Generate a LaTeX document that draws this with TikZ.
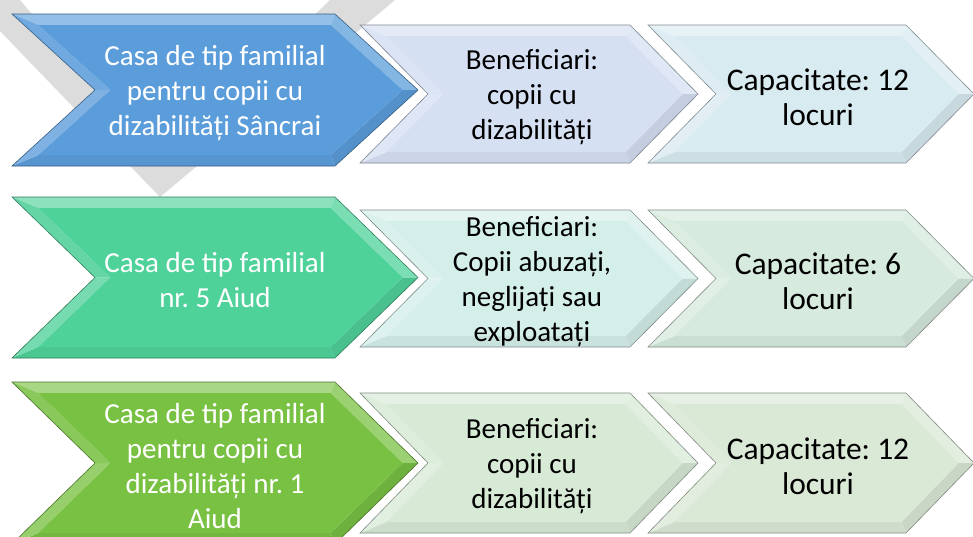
\documentclass[tikz,border=0pt]{standalone}
\usepackage{fontspec}
\setmainfont{Carlito}
\usetikzlibrary{calc}
\frenchspacing

\definecolor{casaA}{HTML}{5B9DDB}
\definecolor{casaB}{HTML}{4FD19A}
\definecolor{casaC}{HTML}{79C143}
\definecolor{benA}{HTML}{D6E0F3}
\definecolor{capA}{HTML}{D8EBF1}
\definecolor{benB}{HTML}{D4EEEA}
\definecolor{capB}{HTML}{D6EADD}
\definecolor{benC}{HTML}{D7EAD6}
\definecolor{capC}{HTML}{DAE8D6}
\definecolor{wmark}{HTML}{DCDCDC}

\tikzset{
  chevtext/.style={align=center,inner sep=0pt,font=\fontsize{29}{35}\selectfont},
  casatext/.style={text=white},
  bentext/.style={text=black,xshift=3pt},
  captext/.style={text=black,xshift=7pt,font=\fontsize{31.5}{35}\selectfont},
}

% #1 name, #2 origin, #3 width, #4 height, #5 depth, #6 fill, #7 text style, #8 text
\newcommand{\chev}[8]{%
\begin{scope}[shift={(#2)}]
  \def\w{#3}\def\h{#4}\def\d{#5}\def\b{11}
  \coordinate (#1-lt) at (\b*2.4,\b);
  \coordinate (#1-rt) at (\w-\b*0.4,\b);
  \coordinate (#1-tip) at (\w+\d-\b*1.4,\h/2);
  \coordinate (#1-rb) at (\w-\b*0.4,\h-\b);
  \coordinate (#1-lb) at (\b*2.4,\h-\b);
  \coordinate (#1-n) at (\d+\b*1.4,\h/2);
  \fill[#6!65!white] (0,0) -- (\w,0) -- (#1-rt) -- (#1-lt) -- cycle;
  \fill[#6!75!white] (\w,0) -- (\w+\d,\h/2) -- (#1-tip) -- (#1-rt) -- cycle;
  \fill[#6!92!black] (\w+\d,\h/2) -- (\w,\h) -- (#1-rb) -- (#1-tip) -- cycle;
  \fill[#6!95!black] (\w,\h) -- (0,\h) -- (#1-lb) -- (#1-rb) -- cycle;
  \fill[#6!78!white] (0,\h) -- (\d,\h/2) -- (#1-n) -- (#1-lb) -- cycle;
  \fill[#6!88!white] (\d,\h/2) -- (0,0) -- (#1-lt) -- (#1-n) -- cycle;
  \fill[#6] (#1-lt) -- (#1-rt) -- (#1-tip) -- (#1-rb) -- (#1-lb) -- (#1-n) -- cycle;
  \draw[#6!60!black,line width=0.6pt] (0,0) -- (\w,0) -- (\w+\d,\h/2) -- (\w,\h) -- (0,\h) -- (\d,\h/2) -- cycle;
  \node[chevtext,#7] (#1) at ({(\d+\w)/2},\h/2+3) {#8};
\end{scope}}

\begin{document}
\begin{tikzpicture}[x=1pt,y=-1pt]
\useasboundingbox (0,0) rectangle (973,536);
\fill[white] (0,0) rectangle (973,536);

% watermark
\fill[wmark] (-30,0) -- (20,0) -- (160,165) -- (330,0) -- (395,0) -- (160,197) -- cycle;

% row 1
\chev{casa1}{12,14}{323}{152}{83}{casaA}{casatext}{Casa de tip familial\\pentru copii cu\\dizabilități Sâncrai}
\chev{ben1}{360,25}{270}{138}{68}{benA}{bentext}{Beneficiari:\\copii cu\\dizabilități}
\chev{cap1}{648,25}{258}{138}{68}{capA}{captext}{Capacitate: 12\\locuri}

% row 2
\chev{casa2}{12,197}{323}{161}{83}{casaB}{casatext}{Casa de tip familial\\nr. 5 Aiud}
\chev{ben2}{360,210}{270}{137}{68}{benB}{bentext}{Beneficiari:\\Copii abuzați,\\neglijați sau\\exploatați}
\chev{cap2}{648,210}{258}{137}{68}{capB}{captext}{Capacitate: 6\\locuri}

% row 3
\chev{casa3}{12,382}{323}{162}{83}{casaC}{casatext}{Casa de tip familial\\pentru copii cu\\dizabilități nr. 1\\Aiud}
\chev{ben3}{360,393}{270}{140}{68}{benC}{bentext}{Beneficiari:\\copii cu\\dizabilități}
\chev{cap3}{648,393}{258}{140}{68}{capC}{captext}{Capacitate: 12\\locuri}
\end{tikzpicture}
\end{document}
